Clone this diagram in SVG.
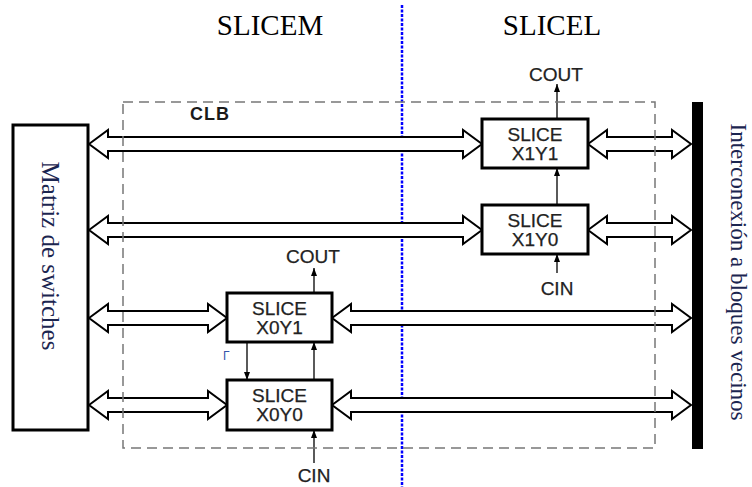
<svg xmlns="http://www.w3.org/2000/svg" width="752" height="487" viewBox="0 0 752 487">
  <defs>
    <style>
      .title { font-family: "Liberation Serif", "Times New Roman", serif; font-size: 29px; fill: #000; }
      .vtext { font-family: "Liberation Serif", "Times New Roman", serif; fill: #1b2550; text-anchor: middle; }
      .lbl { font-family: "Liberation Sans", Arial, sans-serif; font-size: 19px; fill: #222; text-anchor: middle; stroke: #222; stroke-width: 0.25; }
      .clb { font-family: "Liberation Sans", Arial, sans-serif; font-size: 18px; font-weight: bold; fill: #1a1a1a; text-anchor: middle; letter-spacing: 1px; }
      .slice { fill: #fff; stroke: #000; stroke-width: 3; }
      .bus { fill: #fff; stroke: #000; stroke-width: 2; stroke-linejoin: miter; }
      .carry { stroke: #000; stroke-width: 1.3; fill: none; marker-end: url(#tip); }
    </style>
    <marker id="tip" viewBox="0 0 8 6" refX="8" refY="3" markerWidth="8" markerHeight="6" markerUnits="userSpaceOnUse" orient="auto">
      <path d="M0,0 L8,3 L0,6 z" fill="#000"/>
    </marker>
  </defs>

  <rect width="752" height="487" fill="#fff"/>

  <!-- column titles -->
  <text class="title" x="270" y="35" text-anchor="middle">SLICEM</text>
  <text class="title" x="552" y="35" text-anchor="middle">SLICEL</text>

  <!-- SLICEM / SLICEL divider -->
  <line x1="402" y1="5" x2="402" y2="487" stroke="#0000ff" stroke-width="2.5" stroke-dasharray="3 1.5"/>

  <!-- switch matrix -->
  <g id="switch-matrix">
    <rect x="13" y="125" width="75" height="305" fill="#fff" stroke="#000" stroke-width="3"/>
    <text class="vtext" font-size="25" transform="translate(42,256) rotate(90)">Matriz de switches</text>
  </g>

  <!-- neighbour interconnect bar -->
  <g id="interconnect">
    <rect x="692" y="102" width="11" height="347" fill="#000"/>
    <text class="vtext" font-size="23" transform="translate(731,272) rotate(90)">Interconexión a bloques vecinos</text>
  </g>

  <!-- connectors -->
  <g id="connectors">
    <!-- wide bidirectional buses -->
    <polygon class="bus" points="89,144 108,130 108,137 463,137 463,130 482,144 463,158 463,151 108,151 108,158"/>
    <polygon class="bus" points="588,144 607,130 607,137 672,137 672,130 691,144 672,158 672,151 607,151 607,158"/>
    <polygon class="bus" points="89,230 108,216 108,223 463,223 463,216 482,230 463,244 463,237 108,237 108,244"/>
    <polygon class="bus" points="588,230 607,216 607,223 672,223 672,216 691,230 672,244 672,237 607,237 607,244"/>
    <polygon class="bus" points="89,318 108,304 108,311 208,311 208,304 227,318 208,332 208,325 108,325 108,332"/>
    <polygon class="bus" points="332,318 351,304 351,311 672,311 672,304 691,318 672,332 672,325 351,325 351,332"/>
    <polygon class="bus" points="89,405 108,391 108,398 208,398 208,391 227,405 208,419 208,412 108,412 108,419"/>
    <polygon class="bus" points="332,405 351,391 351,398 672,398 672,391 691,405 672,419 672,412 351,412 351,419"/>

    <!-- carry chains -->
    <line class="carry" x1="557" y1="119" x2="557" y2="84"/>
    <line class="carry" x1="557" y1="205" x2="557" y2="168"/>
    <line class="carry" x1="557" y1="273" x2="557" y2="254"/>
    <line class="carry" x1="314" y1="293" x2="314" y2="268"/>
    <line class="carry" x1="314" y1="380" x2="314" y2="342"/>
    <line class="carry" x1="247" y1="342" x2="247" y2="380"/>
    <line class="carry" x1="314" y1="463" x2="314" y2="430"/>
  </g>

  <!-- CLB outline -->
  <g id="clb">
    <rect x="123" y="102" width="532" height="346" fill="none" stroke="#777" stroke-width="1.5" stroke-dasharray="10 6"/>
    <text class="clb" x="210" y="120">CLB</text>
  </g>

  <!-- slices -->
  <g id="slice-x1y1">
    <rect class="slice" x="482" y="119" width="106" height="49"/>
    <text class="lbl" x="535" y="141">SLICE</text>
    <text class="lbl" x="535" y="160">X1Y1</text>
  </g>
  <g id="slice-x1y0">
    <rect class="slice" x="482" y="205" width="106" height="49"/>
    <text class="lbl" x="535" y="227">SLICE</text>
    <text class="lbl" x="535" y="246">X1Y0</text>
  </g>
  <g id="slice-x0y1">
    <rect class="slice" x="227" y="293" width="105" height="49"/>
    <text class="lbl" x="279.5" y="315">SLICE</text>
    <text class="lbl" x="279.5" y="334">X0Y1</text>
  </g>
  <g id="slice-x0y0">
    <rect class="slice" x="227" y="380" width="105" height="50"/>
    <text class="lbl" x="279.5" y="402">SLICE</text>
    <text class="lbl" x="279.5" y="421">X0Y0</text>
  </g>

  <!-- carry labels -->
  <text class="lbl" x="556" y="81">COUT</text>
  <text class="lbl" x="557" y="295">CIN</text>
  <text class="lbl" x="313" y="263">COUT</text>
  <text class="lbl" x="314" y="482">CIN</text>
  <text x="223" y="360" font-family="Liberation Sans, Arial, sans-serif" font-size="12" fill="#3355aa">Γ</text>
</svg>
